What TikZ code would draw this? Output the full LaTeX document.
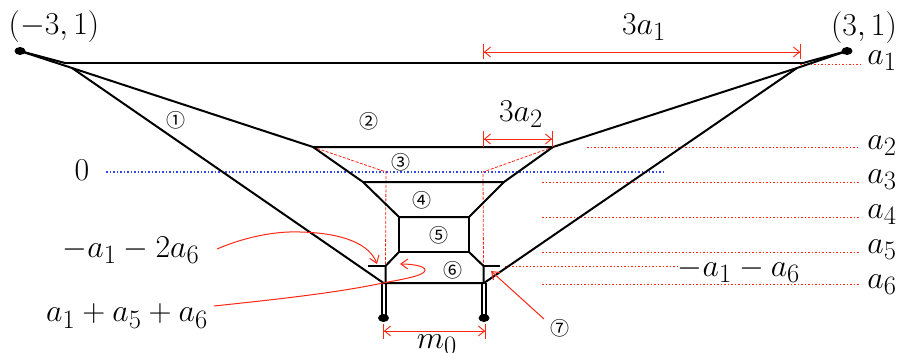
\documentclass[tikz,border=0pt]{standalone}
\usepackage{fontspec}
\newfontfamily\circfont{Noto Sans CJK SC}
\usetikzlibrary{arrows.meta,shapes.geometric}
\definecolor{rd}{RGB}{250,40,20}
\definecolor{bl}{RGB}{50,70,230}
\tikzset{
  frame/.style={line width=2pt,black,line join=round},
  leg/.style={line width=2pt,black},
  dim/.style={color=rd,line width=.9pt,{Bar[width=15pt]Straight Barb[length=6pt,width=10pt]}-{Straight Barb[length=6pt,width=10pt]Bar[width=15pt]}},
  redarrow/.style={color=rd,line width=1pt,-{Straight Barb[length=7pt,width=10pt]}},
  guide/.style={color=rd,line width=.7pt,dash pattern=on 1.5pt off 2pt},
  hidden/.style={color=rd,line width=.8pt,dash pattern=on 3pt off 1.5pt},
  zero/.style={color=bl,line width=1.1pt,dash pattern=on 1.5pt off 2pt},
  big/.style={inner sep=0pt,font=\Huge,scale=1.28,transform shape},
  num/.style={inner sep=0pt,font=\circfont\fontsize{19}{22}\selectfont},
  tip/.style={ellipse,fill=black,inner sep=0pt,minimum width=11pt,minimum height=8pt}
}
\begin{document}
\begin{tikzpicture}[x=1pt,y=-1pt]
\useasboundingbox (0,0) rectangle (898,353);
% coordinates
\coordinate (TL) at (20,51);
\coordinate (TR) at (847,51);
\coordinate (HL) at (65,63);
\coordinate (HR) at (803,63);
\coordinate (JL) at (72,68);
\coordinate (JR) at (797,68);
\coordinate (A) at (313,147);
\coordinate (B) at (553,147);
\coordinate (Cb) at (363,182);
\coordinate (Db) at (504,182);
\coordinate (E) at (399,217);
\coordinate (F) at (469,217);
\coordinate (G) at (469,252);
\coordinate (H) at (399,252);
\coordinate (I) at (385.5,266);
\coordinate (J) at (483.5,266);
\coordinate (K) at (368,266);
\coordinate (M) at (500,266);
\coordinate (P) at (383.5,283);
\coordinate (Pv) at (385.5,283);
\coordinate (Q) at (484,283);
\coordinate (Qv) at (483.5,283);
\coordinate (S) at (386,172);
\coordinate (T) at (483,172);
% dotted guides and zero line
\node[big] (zerolabel) at (82,170) {$0$};
\coordinate (z1) at (106,172); \coordinate (z2) at (665,172);
\draw[zero] (z1) -- (z2);
\node[big] (a1) at (882,61) {$a_1$};
\node[big] (a2) at (882,146) {$a_2$};
\node[big] (a3) at (882,180) {$a_3$};
\node[big] (a4) at (882,215) {$a_4$};
\node[big] (a5) at (882,250) {$a_5$};
\node[big] (a6) at (882,285) {$a_6$};
\node[big] (ma) at (739,270) {$-a_1-a_6$};
\coordinate (g1) at (800,64);  \coordinate (g1e) at (860,64);
\coordinate (g2) at (587,147); \coordinate (g2e) at (860,147);
\coordinate (g3) at (542,182); \coordinate (g3e) at (860,182);
\coordinate (g4) at (542,217); \coordinate (g4e) at (860,217);
\coordinate (g5) at (542,252); \coordinate (g5e) at (860,252);
\coordinate (g6) at (542,284); \coordinate (g6e) at (860,284);
\coordinate (g7) at (505,266); \coordinate (g7e) at (680,266);
\draw[guide] (g1) -- (g1e);
\draw[guide] (g2) -- (g2e);
\draw[guide] (g3) -- (g3e);
\draw[guide] (g4) -- (g4e);
\draw[guide] (g5) -- (g5e);
\draw[guide] (g6) -- (g6e);
\draw[guide] (g7) -- (g7e);
% hidden red
\draw[hidden] (A) -- (S) -- (I);
\draw[hidden] (B) -- (T) -- (J);
% frame
\draw[frame] (HL) -- (HR);
\draw[frame] (JL) -- (A) -- (B) -- (JR);
\draw[frame] (JL) -- (P) -- (Q) -- (JR);
\draw[frame] (A) -- (Cb) -- (Db) -- (B);
\draw[frame] (Cb) -- (E) -- (F) -- (Db);
\draw[frame] (E) -- (H) -- (G) -- (F);
\draw[frame] (H) -- (I) -- (Pv);
\draw[frame] (G) -- (J) -- (Qv);
\draw[frame] (K) -- (I);
\draw[frame] (J) -- (M);
% double bars
\draw[leg] (TL) -- (HL);
\draw[leg] (TL) -- (JL);
\draw[leg] (TR) -- (HR);
\draw[leg] (TR) -- (JR);
\node[tip] (tl) at (TL) {};
\node[tip] (tr) at (TR) {};
\node[tip] (bl) at (383.5,318) {};
\node[tip] (br) at (484,318) {};
\draw[leg] ([xshift=-2pt]P) -- ([xshift=-2pt]bl.center);
\draw[leg] ([xshift=2pt]P) -- ([xshift=2pt]bl.center);
\draw[leg] ([xshift=-2pt]Q) -- ([xshift=-2pt]br.center);
\draw[leg] ([xshift=2pt]Q) -- ([xshift=2pt]br.center);
% dimensions
\coordinate (d1a) at (483,52); \coordinate (d1b) at (801,52);
\coordinate (d2a) at (483,139); \coordinate (d2b) at (553,139);
\coordinate (d3a) at (383,331); \coordinate (d3b) at (486,331);
\draw[dim] (d1a) -- (d1b);
\draw[dim] (d2a) -- (d2b);
\draw[dim] (d3a) -- (d3b);
% labels
\node[big] (pl) at (54,27) {$(-3,1)$};
\node[big] (pr) at (864,28) {$(3,1)$};
\node[big] (t3a1) at (644,27) {$3a_1$};
\node[big] (t3a2) at (521,114) {$3a_2$};
\node[big] (m0) at (437,345) {$m_0$};
\node[big] (l1) at (131,250) {$-a_1-2a_6$};
\node[big] (l2) at (127,316) {$a_1+a_5+a_6$};
\node[num] at (176,120) {①};
\node[num] at (369,121) {②};
\node[num] at (401,162) {③};
\node[num] at (422,200) {④};
\node[num] at (439,235) {⑤};
\node[num] at (453,270) {⑥};
\node[num] (n7) at (560,328) {⑦};
% red arrows
\coordinate (c1) at (377,264);
\coordinate (c2) at (400,264);
\coordinate (c3) at (491,271);
\coordinate (s1) at (217,249);
\coordinate (s2) at (214,306);
\coordinate (s3) at (544,319);
\draw[redarrow] (s1) .. controls (245,237) and (275,231) .. (300,232) .. controls (345,233) and (370,245) .. (c1);
\draw[redarrow] (s2) .. controls (290,298) and (340,292) .. (383,283) .. controls (410,278) and (425,275) .. (425,270) .. controls (425,266) and (412,264) .. (c2);
\draw[redarrow] (s3) -- (c3);
\end{tikzpicture}
\end{document}
